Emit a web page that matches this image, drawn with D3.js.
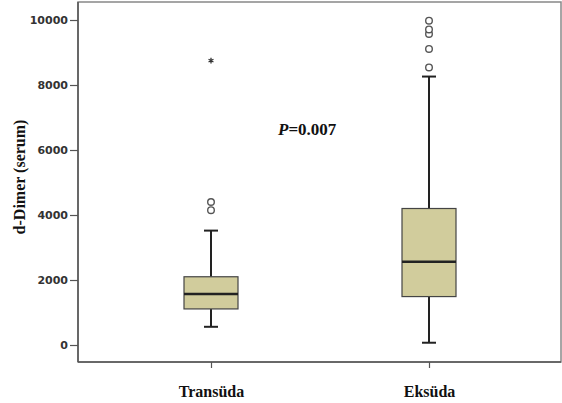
<!DOCTYPE html>
<html>
<head>
<meta charset="utf-8">
<script src="https://cdn.jsdelivr.net/npm/d3@7"></script>
<style>
  body { margin: 0; background: #fff; }
</style>
</head>
<body>
<script>
// groups and box statistics
const groups = ["Transüda", "Eksüda"];
const whiskerLow = [560, 70];
const q1 = [1110, 1490];
const median = [1570, 2560];
const q3 = [2100, 4200];
const whiskerHigh = [3520, 8260];
const outliers = [[4150, 4400], [8540, 9110, 9570, 9710, 9980]];
const extremes = [[8750], []];
const yTicks = [0, 2000, 4000, 6000, 8000, 10000];

const width = 562, height = 403;
const frame = {left: 78, right: 561, top: 2, bottom: 362};

const svg = d3.select("body").append("svg")
    .attr("width", width)
    .attr("height", height);

const y = d3.scaleLinear()
    .domain([-523, 10554])
    .range([frame.bottom, frame.top]);

const x = d3.scalePoint()
    .domain(groups)
    .range([211, 429]);

// frame
svg.append("rect")
    .attr("x", frame.left)
    .attr("y", frame.top)
    .attr("width", frame.right - frame.left)
    .attr("height", frame.bottom - frame.top)
    .attr("fill", "none")
    .attr("stroke", "#888")
    .attr("stroke-width", 1.5);
svg.append("line")
    .attr("x1", frame.left).attr("x2", frame.right)
    .attr("y1", frame.bottom).attr("y2", frame.bottom)
    .attr("stroke", "#555").attr("stroke-width", 1.5);
svg.append("line")
    .attr("x1", frame.left).attr("x2", frame.left)
    .attr("y1", frame.top).attr("y2", frame.bottom)
    .attr("stroke", "#555").attr("stroke-width", 1.5);

// y axis
const yAxis = svg.append("g")
    .attr("transform", `translate(${frame.left},0)`)
    .call(d3.axisLeft(y).tickValues(yTicks).tickSize(8).tickPadding(2).tickFormat(d3.format("d")));
yAxis.select(".domain").remove();
yAxis.selectAll(".tick line").attr("stroke", "#555").attr("stroke-width", 1.2);
yAxis.selectAll(".tick text")
    .attr("fill", "#333")
    .style("font-family", "'DejaVu Sans', sans-serif")
    .style("font-weight", "bold")
    .style("font-size", "11px");

// x axis
const xAxis = svg.append("g")
    .attr("transform", `translate(0,${frame.bottom})`)
    .call(d3.axisBottom(x).tickSize(6).tickPadding(18));
xAxis.select(".domain").remove();
xAxis.selectAll(".tick line").attr("stroke", "#555").attr("stroke-width", 1.2);
xAxis.selectAll(".tick text")
    .attr("fill", "#111")
    .style("font-family", "'Liberation Serif', 'Times New Roman', serif")
    .style("font-weight", "bold")
    .style("font-size", "16px");

// y label
svg.append("text")
    .attr("transform", "translate(25,177) rotate(-90)")
    .attr("text-anchor", "middle")
    .style("font-family", "'Liberation Serif', 'Times New Roman', serif")
    .style("font-weight", "bold")
    .style("font-size", "16px")
    .attr("fill", "#111")
    .text("d-Dimer (serum)");

// boxes
const boxW = 54, capW = 14;
const boxes = svg.append("g")
    .selectAll("g")
    .data(groups)
    .join("g");

boxes.append("line")
    .attr("x1", d => x(d)).attr("x2", d => x(d))
    .attr("y1", (d, i) => y(whiskerHigh[i])).attr("y2", (d, i) => y(q3[i]))
    .attr("stroke", "#222").attr("stroke-width", 2);
boxes.append("line")
    .attr("x1", d => x(d)).attr("x2", d => x(d))
    .attr("y1", (d, i) => y(q1[i])).attr("y2", (d, i) => y(whiskerLow[i]))
    .attr("stroke", "#222").attr("stroke-width", 2);
boxes.append("line")
    .attr("x1", d => x(d) - capW / 2).attr("x2", d => x(d) + capW / 2)
    .attr("y1", (d, i) => y(whiskerHigh[i])).attr("y2", (d, i) => y(whiskerHigh[i]))
    .attr("stroke", "#222").attr("stroke-width", 2);
boxes.append("line")
    .attr("x1", d => x(d) - capW / 2).attr("x2", d => x(d) + capW / 2)
    .attr("y1", (d, i) => y(whiskerLow[i])).attr("y2", (d, i) => y(whiskerLow[i]))
    .attr("stroke", "#222").attr("stroke-width", 2);
boxes.append("rect")
    .attr("x", d => x(d) - boxW / 2)
    .attr("width", boxW)
    .attr("y", (d, i) => y(q3[i]))
    .attr("height", (d, i) => y(q1[i]) - y(q3[i]))
    .attr("fill", "#d1cc9c")
    .attr("stroke", "#444")
    .attr("stroke-width", 1.2);
boxes.append("line")
    .attr("x1", d => x(d) - boxW / 2).attr("x2", d => x(d) + boxW / 2)
    .attr("y1", (d, i) => y(median[i])).attr("y2", (d, i) => y(median[i]))
    .attr("stroke", "#222").attr("stroke-width", 2.5);

// outliers (circles) and extremes (asterisks)
const star = d3.symbol(d3.symbolAsterisk, 22);
boxes.each(function (d, i) {
  d3.select(this).selectAll("circle")
      .data(outliers[i])
      .join("circle")
      .attr("cx", x(d))
      .attr("cy", v => y(v))
      .attr("r", 3.3)
      .attr("fill", "#fff")
      .attr("stroke", "#555")
      .attr("stroke-width", 1.4);
  d3.select(this).selectAll("path.ext")
      .data(extremes[i])
      .join("path")
      .attr("class", "ext")
      .attr("transform", v => `translate(${x(d)},${y(v)})`)
      .attr("d", star)
      .attr("fill", "none")
      .attr("stroke", "#333")
      .attr("stroke-width", 1.3);
});

// p value
const pText = svg.append("text")
    .attr("x", 278)
    .attr("y", 135)
    .style("font-family", "'Liberation Serif', 'Times New Roman', serif")
    .style("font-weight", "bold")
    .style("font-size", "17px")
    .attr("fill", "#111");
pText.append("tspan").style("font-style", "italic").text("P");
pText.append("tspan").text("=0.007");
</script>
</body>
</html>
